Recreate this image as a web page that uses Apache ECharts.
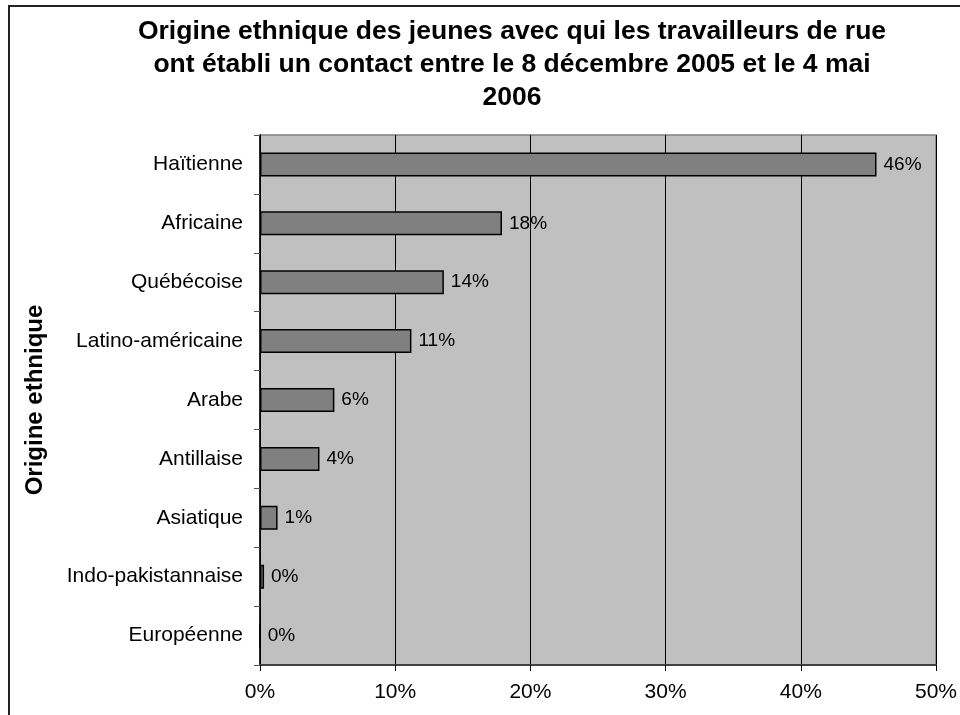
<!DOCTYPE html>
<html>
<head>
<meta charset="utf-8">
<script src="https://cdn.jsdelivr.net/npm/echarts@6/dist/echarts.min.js"></script>
<style>html,body{margin:0;padding:0;background:#fff;}#c{width:960px;height:715px;}</style>
</head>
<body>
<div id="c"></div>
<script>
const titleText = "Origine ethnique des jeunes avec qui les travailleurs de rue\nont établi un contact entre le 8 décembre 2005 et le 4 mai\n2006";
const axisName = "Origine ethnique";
const categories = ["Haïtienne","Africaine","Québécoise","Latino-américaine","Arabe","Antillaise","Asiatique","Indo-pakistannaise","Européenne"];
const values = [45.6, 17.9, 13.6, 11.2, 5.5, 4.4, 1.3, 0.3, 0];
const xTicks = [0, 10, 20, 30, 40, 50];

const FONT = "'Liberation Sans', Arial, sans-serif";
const chart = echarts.init(document.getElementById('c'), null, {renderer: 'canvas'});
chart.setOption({
  animation: false,
  backgroundColor: '#ffffff',
  graphic: [
    {type: 'rect', shape: {x: 9, y: 6, width: 1200, height: 1200}, style: {fill: 'none', stroke: '#222', lineWidth: 2}, silent: true, z: 0},
    {type: 'text', x: 512, y: 15, style: {text: titleText, font: "bold 26.5px " + FONT, fill: '#000', textAlign: 'center', lineHeight: 33}, z: 10}
  ],
  grid: {left: 260, right: 23, top: 135, bottom: 50, show: true, backgroundColor: '#c0c0c0', borderColor: '#808080', borderWidth: 1.5, containLabel: false},
  xAxis: {
    type: 'value', min: xTicks[0], max: xTicks[xTicks.length - 1], interval: 10,
    axisLine: {show: true, onZero: false, lineStyle: {color: '#404040', width: 2}},
    axisTick: {show: true, length: 6, lineStyle: {color: '#000', width: 1}},
    axisLabel: {formatter: v => v + '%', fontFamily: FONT, fontSize: 21, color: '#000', margin: 17},
    splitLine: {show: true, lineStyle: {color: '#000', width: 1}}
  },
  yAxis: {
    type: 'category', data: categories, inverse: true,
    name: axisName, nameLocation: 'middle', nameGap: 213,
    nameTextStyle: {fontFamily: FONT, fontSize: 24, fontWeight: 'bold', color: '#000'},
    axisLine: {show: true, lineStyle: {color: '#000', width: 1.5}},
    axisTick: {show: true, length: 6, alignWithLabel: false, lineStyle: {color: '#555', width: 1}},
    axisLabel: {fontFamily: FONT, fontSize: 21, color: '#000', margin: 17},
    splitLine: {show: false}
  },
  series: [{
    type: 'bar', data: values, barWidth: 24,
    itemStyle: {color: '#808080', borderColor: '#000', borderWidth: 1.5},
    label: {show: true, position: 'right', distance: 7, formatter: p => Math.round(p.value) + '%', fontFamily: FONT, fontSize: 19, color: '#000'}
  }]
});
</script>
</body>
</html>
